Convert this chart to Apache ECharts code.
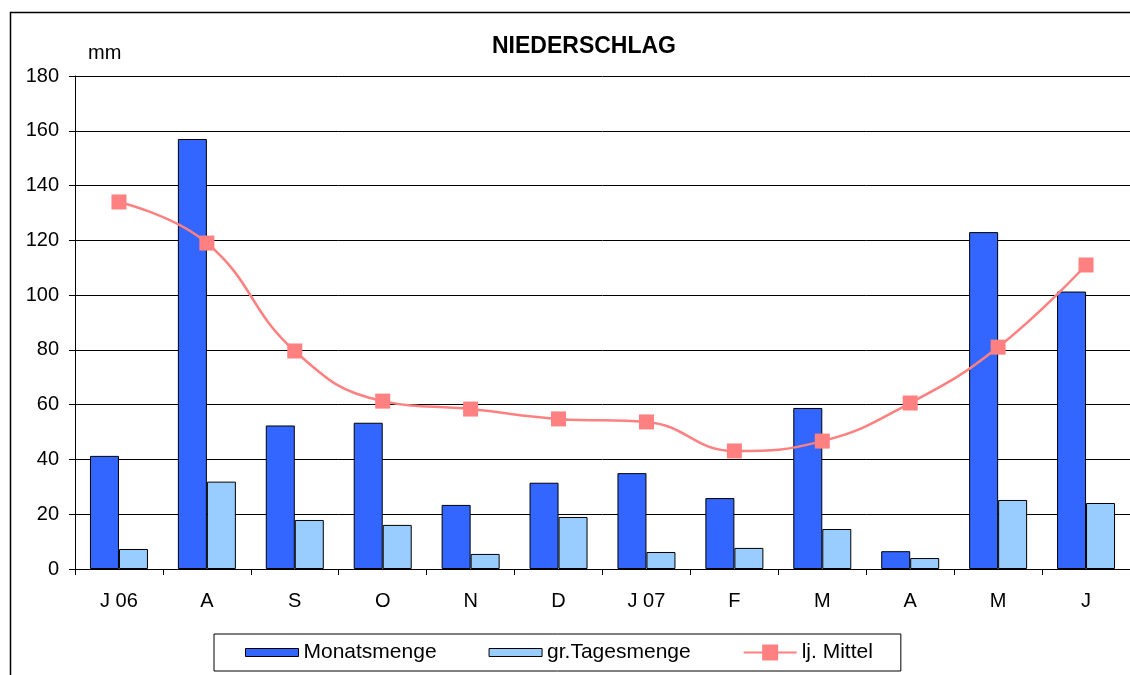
<!DOCTYPE html>
<html>
<head>
<meta charset="utf-8">
<script src="https://cdn.jsdelivr.net/npm/echarts@6/dist/echarts.min.js"></script>
<style>
html,body{margin:0;padding:0;background:#fff;}
#chart{width:1130px;height:675px;}
</style>
</head>
<body>
<div id="chart"></div>
<script>
const categories = ['J 06','A','S','O','N','D','J 07','F','M','A','M','J'];
const monatsmenge = [41.3,157,52.4,53.4,23.4,31.5,35,25.9,58.8,6.5,123,101.3];
const tagesmenge = [7.3,31.9,17.9,16.1,5.5,19,6.2,7.7,14.6,4.0,25.2,24.1];
const mittel = [134,119,79.6,61.3,58.4,54.8,53.7,43.1,46.7,60.6,81,111];
const yTicks = {min:0, max:180, interval:20};

const chart = echarts.init(document.getElementById('chart'), null, {renderer:'canvas'});
const font = 'Liberation Sans, Arial, Helvetica, sans-serif';
const barIcon = 'path://M0,0h53v8h-53z';
chart.setOption({
  animation:false,
  backgroundColor:'#fff',
  textStyle:{fontFamily:font},
  graphic:[{
    type:'rect', shape:{x:10.5,y:12.5,width:1200,height:700},
    style:{fill:'none',stroke:'#000',lineWidth:1.5}, z:-1
  }],
  title:{
    text:'NIEDERSCHLAG', left:487, top:30,
    textStyle:{fontFamily:font,fontSize:23,fontWeight:'bold',color:'#000'}
  },
  legend:{
    left:214, top:634,
    orient:'horizontal',
    borderColor:'#000', borderWidth:1,
    padding:[8,28,8,31],
    itemWidth:53, itemHeight:20, itemGap:52,
    itemStyle:{borderWidth:1},
    textStyle:{fontFamily:font,fontSize:21,color:'#000'},
    data:[
      {name:'Monatsmenge', icon:barIcon},
      {name:'gr.Tagesmenge', icon:barIcon},
      {name:'lj. Mittel'}
    ]
  },
  grid:{left:75, right:-3, top:76, bottom:106, containLabel:false},
  xAxis:{
    type:'category', data:categories,
    axisLine:{lineStyle:{color:'#000',width:1}},
    axisTick:{show:true,alignWithLabel:false,length:6,lineStyle:{color:'#000'}},
    axisLabel:{fontFamily:font,fontSize:20,color:'#000',margin:22,interval:0},
    splitLine:{show:false}
  },
  yAxis:{
    type:'value', min:yTicks.min, max:yTicks.max, interval:yTicks.interval,
    name:'mm', nameLocation:'end', nameGap:13,
    nameTextStyle:{fontFamily:font,fontSize:20,color:'#000',align:'left',padding:[0,0,0,13]},
    axisLine:{show:true,lineStyle:{color:'#000',width:1}},
    axisTick:{show:true,length:6,lineStyle:{color:'#000'}},
    axisLabel:{fontFamily:font,fontSize:20,color:'#000',margin:16},
    splitLine:{show:true,lineStyle:{color:'#000',width:1}}
  },
  series:[
    {
      name:'Monatsmenge', type:'bar', data:monatsmenge,
      barWidth:29, barGap:'0%',
      itemStyle:{color:'#3366FF',borderColor:'#000',borderWidth:1}
    },
    {
      name:'gr.Tagesmenge', type:'bar', data:tagesmenge,
      barWidth:29, barGap:'0%',
      itemStyle:{color:'#99CCFF',borderColor:'#000',borderWidth:1}
    },
    {
      name:'lj. Mittel', type:'line', data:mittel,
      smooth:0.45, symbol:'rect', symbolSize:15,
      lineStyle:{color:'#FF8080',width:2.5},
      itemStyle:{color:'#FF8080'},
      z:5
    }
  ]
});
</script>
</body>
</html>
